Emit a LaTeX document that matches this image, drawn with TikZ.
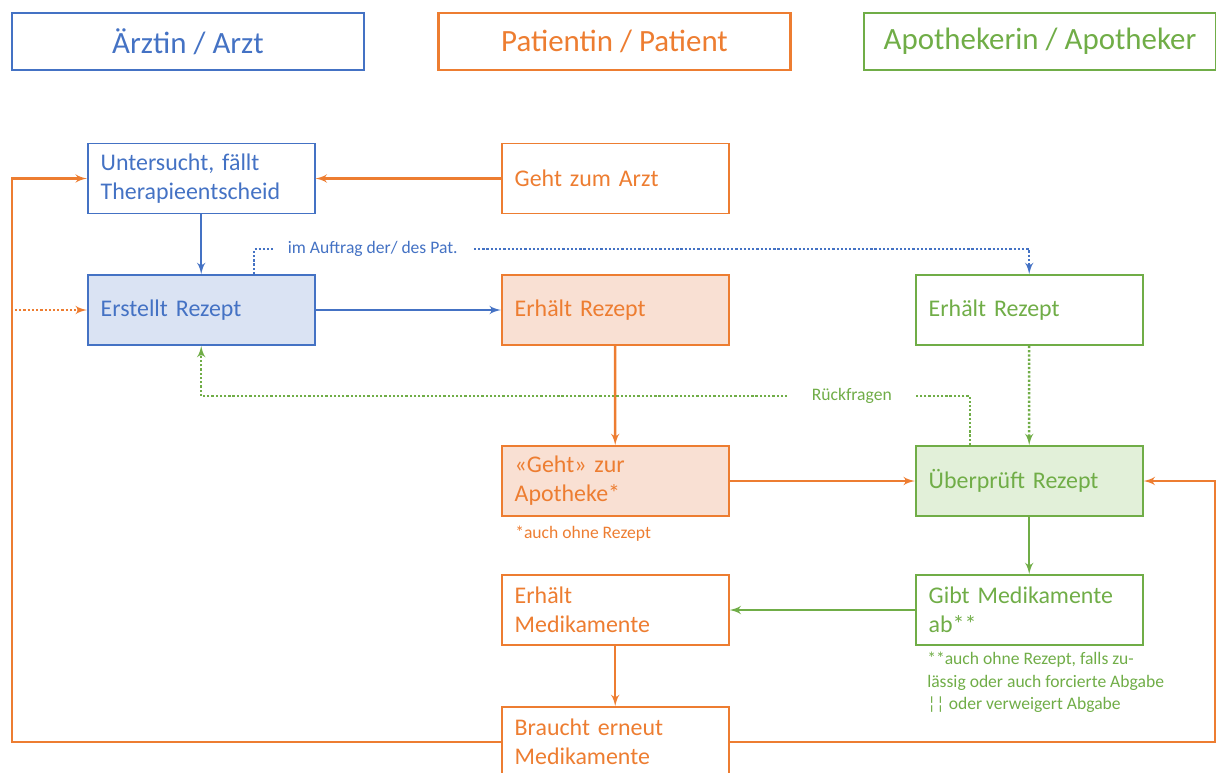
\documentclass[tikz,border=0pt]{standalone}
\usepackage{fontspec}
\setmainfont{Carlito}
\usepackage{tikz}
\usetikzlibrary{shapes,arrows,positioning}
\definecolor{arztblue}{HTML}{4472C4}
\definecolor{patorange}{HTML}{ED7D31}
\definecolor{apogreen}{HTML}{70AD47}
\definecolor{arztfill}{HTML}{DAE3F3}
\definecolor{patfill}{HTML}{F9E0D3}
\definecolor{apofill}{HTML}{E2F0D9}
\tikzstyle{block} = [rectangle, draw, line width=1.2pt, text width=5.025cm,
    inner xsep=0.325cm, inner ysep=0pt, minimum height=1.75cm, align=left,
    font=\fontsize{17}{20.5}\selectfont]
\tikzstyle{arztblock} = [block, draw=arztblue, text=arztblue]
\tikzstyle{patblock} = [block, draw=patorange, text=patorange]
\tikzstyle{apoblock} = [block, draw=apogreen, text=apogreen]
\tikzstyle{head} = [rectangle, draw, line width=1.9pt, minimum width=8.8cm,
    minimum height=1.425cm, font=\fontsize{22}{26}\selectfont]
\tikzstyle{note} = [font=\fontsize{12.5}{16}\selectfont, inner sep=0pt, align=left]
\tikzstyle{line} = [draw, line width=1.8pt, -latex']
\tikzstyle{dotline} = [line, dash pattern=on 1.6pt off 1.4pt]

\begin{document}
\begin{tikzpicture}[node distance = 10.35cm]
    \useasboundingbox (0,0) rectangle (30.4,-19.3);
    % Headers
    \node [head, draw=arztblue, text=arztblue] (harzt) at (4.7,-1.0375) {Ärztin / Arzt};
    \node [head, draw=patorange, text=patorange] (hpat) at (15.3625,-1.0375) {Patientin / Patient};
    \node [head, draw=apogreen, text=apogreen] (hapo) at (26.0,-1.0375) {Apothekerin / Apotheker};
    % Place nodes
    \node [arztblock] (unters) at (5.03,-4.4625) {Untersucht, fällt\\Therapieentscheid};
    \node [patblock, right of=unters] (gehtarzt) {Geht zum Arzt};
    \node [arztblock, fill=arztfill] (erstellt) at (5.03,-7.75) {Erstellt Rezept};
    \node [patblock, fill=patfill, right of=erstellt] (rezpat) {Erhält Rezept};
    \node [apoblock, right of=rezpat] (rezapo) {Erhält Rezept};
    \node [patblock, fill=patfill] (zurapo) at (15.38,-12.025) {«Geht» zur\\Apotheke*};
    \node [apoblock, fill=apofill, right of=zurapo] (pruef) {Überprüft Rezept};
    \node [patblock] (medpat) at (15.38,-15.25) {Erhält\\Medikamente};
    \node [apoblock, right of=medpat] (medapo) {Gibt Medikamente\\ab**};
    \node [patblock] (erneut) at (15.38,-18.55) {Braucht erneut\\Medikamente};
    \coordinate (inrez) at (0.375,-7.75);
    % Footnotes
    \node [note, text=patorange, anchor=west] (fnpat) at (12.875,-13.35) {*auch ohne Rezept};
    \node [note, text=apogreen, anchor=north west] (fnapo) at (23.175,-16.3)
        {**auch ohne Rezept, falls zu-\\lässig oder auch forcierte Abgabe\\¦¦ oder verweigert Abgabe};
    % Draw edges
    \path [line, draw=patorange] (gehtarzt) -- (unters);
    \path [line, draw=arztblue] (unters) -- (erstellt);
    \path [line, draw=arztblue] (erstellt) -- (rezpat);
    \path [dotline, draw=arztblue] ([xshift=1.325cm]erstellt.north) -- ++(0,0.625)
        -| node [pos=0.0765, note, fill=white, text=arztblue, inner xsep=0.375cm, inner ysep=2pt] {im Auftrag der/ des Pat.} (rezapo.north);
    \path [dotline, draw=patorange] (inrez) -- (erstellt);
    \path [line, draw=patorange] (rezpat) -- (zurapo);
    \path [line, draw=patorange] (zurapo) -- (pruef);
    \path [dotline, draw=apogreen] (rezapo) -- (pruef);
    \path [dotline, draw=apogreen] ([xshift=-1.475cm]pruef.north) -- ++(0,1.225)
        -| node [pos=0.077, note, fill=white, text=apogreen, inner xsep=0.6cm, inner ysep=2pt] {Rückfragen} (erstellt.south);
    \path [line, draw=apogreen] (pruef) -- (medapo);
    \path [line, draw=apogreen] (medapo) -- (medpat);
    \path [line, draw=patorange] (medpat) -- (erneut);
    \path [line, draw=patorange] (erneut.west) -- ++(-12.225,0) |- (unters.west);
    \path [line, draw=patorange] (erneut.east) -- ++(12.15,0) |- (pruef.east);
\end{tikzpicture}
\end{document}
